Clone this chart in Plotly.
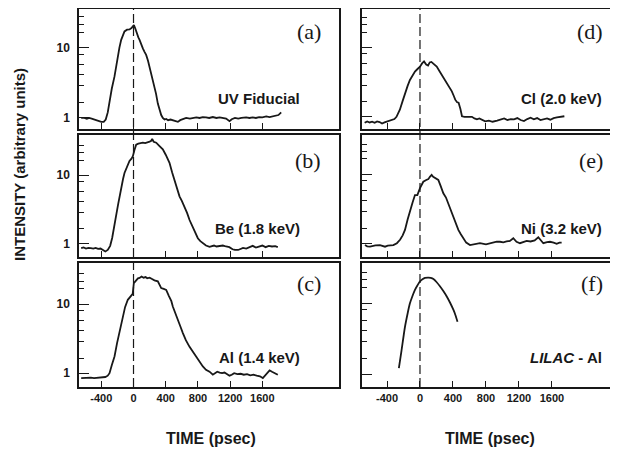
import plotly.graph_objects as go

# ---------------- data ----------------
t_a = [-650, -610, -580, -550, -520, -490, -460, -430, -400, -370, -345, -320, -298, -270, -236, -215,
       -195, -175, -153, -130, -112, -80, -50, -25, -8, 5, 20, 40, 60, 75, 95, 116, 135, 157, 180, 200,
       219, 240, 261, 280, 302, 325, 344, 364, 385, 406, 430, 460, 489, 520, 551, 580, 610, 654, 700,
       740, 780, 820, 860, 900, 940, 985, 1030, 1070, 1110, 1150, 1192, 1220, 1260, 1300, 1340, 1399,
       1440, 1480, 1520, 1560, 1600, 1648, 1690, 1730, 1770, 1800, 1834]
i_a = [1.0, 1.0, 0.97, 1.0, 0.98, 0.95, 0.93, 0.9, 0.88, 0.88, 0.95, 1.2, 1.8, 2.6, 3.9, 5.5,
       7.5, 10, 12.9, 15, 17, 18, 18.2, 19, 20.5, 21, 19, 16, 14, 12.9, 11, 9.8, 8.8, 7.9, 6.5, 5.3,
       4.3, 3.5, 2.8, 2.2, 1.6, 1.25, 1.1, 1.0, 0.95, 0.97, 0.93, 0.95, 0.92, 0.9, 0.88, 0.93, 0.95, 1.0, 0.98,
       1.0, 1.02, 1.0, 1.03, 1.02, 1.0, 1.03, 1.0, 1.02, 1.0, 0.98, 0.9, 0.96, 1.0, 0.98, 1.0, 1.02,
       1.0, 1.02, 1.0, 1.03, 1.02, 1.05, 1.03, 1.05, 1.08, 1.1, 1.2]

t_b = [-650, -620, -590, -560, -530, -500, -470, -440, -410, -380, -350, -320, -290, -265, -236, -210,
       -190, -174, -150, -130, -112, -80, -50, -25, -8, 10, 33, 60, 90, 116, 145, 170, 200, 220, 232,
       250, 282, 320, 364, 400, 447, 480, 509, 540, 571, 600, 633, 665, 696, 737, 770, 799, 830, 861,
       900, 944, 980, 1000, 1030, 1070, 1110, 1150, 1190, 1230, 1260, 1300, 1330, 1360, 1400, 1440,
       1480, 1520, 1560, 1600, 1640, 1680, 1720, 1760, 1792]
i_b = [0.85, 0.87, 0.84, 0.86, 0.85, 0.84, 0.86, 0.83, 0.84, 0.8, 0.76, 0.8, 0.92, 1.2, 1.76, 2.8,
       3.8, 4.9, 7, 8.8, 10.8, 13.5, 16.2, 17.5, 19, 23, 28, 29, 29.5, 30, 29.5, 30, 31, 32, 34,
       31, 30, 27, 24, 20, 15.2, 11, 8.6, 6.5, 4.9, 4.2, 3.5, 2.8, 2.2, 1.76, 1.4, 1.19, 1.08, 1.0,
       0.93, 0.89, 0.92, 0.93, 0.9, 0.92, 0.93, 0.9, 0.88, 0.82, 0.8, 0.8, 0.83, 0.86, 0.84, 0.88,
       0.92, 0.87, 0.9, 0.93, 0.88, 0.92, 0.9, 0.91, 0.88]

t_c = [-650, -610, -570, -530, -490, -450, -410, -380, -350, -320, -298, -270, -236, -205, -174, -150,
       -133, -105, -71, -50, -29, -10, 4, 30, 55, 75, 100, 125, 150, 170, 200, 230, 260, 302, 320, 344,
       375, 406, 440, 470, 488, 520, 551, 580, 613, 650, 696, 740, 779, 820, 861, 900, 944, 985, 1010,
       1040, 1070, 1100, 1130, 1160, 1192, 1220, 1250, 1290, 1330, 1370, 1410, 1450, 1490, 1530, 1570,
       1606, 1630, 1660, 1690, 1720, 1760, 1792]
i_c = [0.85, 0.86, 0.85, 0.86, 0.85, 0.86, 0.85, 0.87, 0.88, 0.92, 1.0, 1.3, 1.74, 2.7, 3.8, 5.2,
       6.6, 9, 11.5, 12.2, 12.9, 14, 20, 22, 23.5, 23.8, 25, 24, 24.5, 23.5, 24, 23, 22, 21.3, 19, 17,
       16.5, 16, 13, 11, 9.2, 7.2, 5.9, 4.8, 3.8, 3.0, 2.4, 2.0, 1.74, 1.45, 1.25, 1.12, 1.05, 0.95, 1.0,
       1.05, 1.02, 1.0, 1.02, 0.98, 0.92, 0.95, 1.0, 0.97, 0.98, 0.95, 0.97, 0.93, 0.95, 0.92, 0.9,
       0.85, 0.92, 1.0, 1.1, 1.05, 0.98, 0.95]

t_d = [-671, -640, -610, -580, -550, -520, -490, -460, -430, -400, -370, -340, -310, -285, -244, -210,
       -183, -150, -122, -90, -61, -30, 0, 25, 49, 75, 98, 118, 138, 165, 203, 235, 264, 295, 326, 356,
       386, 410, 427, 450, 468, 490, 509, 540, 570, 600, 630, 660, 690, 720, 750, 790, 835, 880, 935,
       980, 1020, 1060, 1100, 1140, 1180, 1220, 1260, 1300, 1340, 1380, 1420, 1460, 1500, 1540, 1580,
       1620, 1660, 1708, 1750]
i_d = [0.82, 0.86, 0.83, 0.85, 0.82, 0.86, 0.84, 0.8, 0.83, 0.85, 0.87, 0.9, 0.93, 1.0, 1.27, 1.7,
       2.2, 2.8, 3.4, 3.9, 4.5, 4.9, 5.3, 5.9, 6.3, 5.7, 5.5, 6.1, 6.2, 5.8, 5.3, 4.6, 4.06, 3.5, 3.1, 2.7,
       2.33, 2.0, 1.77, 1.62, 1.6, 1.3, 1.02, 1.0, 1.0, 0.98, 1.0, 0.95, 0.92, 0.95, 0.9, 0.86, 0.88, 0.85, 0.88,
       0.92, 0.95, 0.9, 0.93, 0.92, 0.96, 0.9, 0.87, 0.93, 0.97, 0.92, 0.96, 0.9, 0.93, 0.95, 0.91,
       0.96, 0.98, 1.0, 1.02]

t_e = [-667, -640, -606, -570, -540, -485, -450, -424, -390, -355, -323, -280, -242, -210, -182, -150,
       -121, -90, -61, -32, 0, 20, 40, 70, 101, 120, 141, 160, 182, 222, 250, 283, 315, 343, 375, 404,
       435, 465, 495, 525, 560, 606, 660, 727, 800, 850, 889, 930, 970, 1010, 1050, 1090, 1131, 1170,
       1212, 1250, 1293, 1340, 1390, 1434, 1470, 1495, 1540, 1576, 1620, 1657, 1690, 1717]
i_e = [0.94, 0.9, 0.89, 0.92, 0.93, 0.94, 0.9, 0.89, 0.92, 0.94, 0.94, 1.0, 1.12, 1.3, 1.56, 2.2,
       3.0, 3.9, 5.0, 5.0, 6.3, 7.0, 7.8, 8.2, 8.5, 9.2, 9.8, 9.2, 8.8, 8.3, 6.8, 5.3, 4.6, 3.8, 3.0, 2.4,
       1.9, 1.56, 1.35, 1.18, 1.02, 0.94, 0.97, 1.0, 0.96, 1.0, 1.02, 1.05, 1.05, 1.03, 1.06, 1.08, 1.18, 1.05,
       1.0, 1.05, 1.08, 1.06, 1.1, 1.22, 1.08, 1.0, 1.04, 1.05, 1.02, 0.98, 1.02, 1.02]

t_f = [-256, -224, -183, -150, -122, -90, -61, -30, 0, 30, 61, 102, 130, 163, 200, 244, 285, 326,
       365, 407, 430, 455]
i_f = [1.22, 2.15, 4.6, 7.2, 10, 12.8, 15.5, 18, 20.4, 21.8, 22.8, 23, 22.8, 22, 20, 17.3, 14.8, 12.4,
       10.2, 8.0, 6.8, 5.5]

panel_letters = ["(a)", "(b)", "(c)", "(d)", "(e)", "(f)"]
panel_names = ["<b>UV Fiducial</b>", "<b>Be (1.8 keV)</b>", "<b>Al (1.4 keV)</b>",
               "<b>Cl (2.0 keV)</b>", "<b>Ni (3.2 keV)</b>", "<b><i>LILAC</i> - Al</b>"]
x_ticks = [-400, 0, 400, 800, 1200, 1600]
y_major = [1, 10]
y_major_text = ["1", "10"]
y_minor = [1.65, 2.85, 4.1, 5.8, 8.1, 16.7, 21.5, 27.5]

series = [(t_a, i_a), (t_b, i_b), (t_c, i_c), (t_d, i_d), (t_e, i_e), (t_f, i_f)]

# ---------------- layout geometry (page pixels; page body has an 8px margin) ----------------
OFF = 8
W, H = 618 - OFF, 449 - OFF
def fx(px):
    return (px - OFF) / W
def fy(py):
    return 1 - (py - OFF) / H

ink = "#181818"
col_x = [(79, 339), (362, 616)]
row_y = [(9, 128.5), (135, 257), (262.5, 387)]
x_ranges = [(-677, 2552), (-703, 2376)]
y_ranges = [(-0.15, 1.55), (-0.2, 1.59), (-0.2, 1.6),
            (-0.168, 1.556), (-0.2, 1.57), (-0.18, 1.576)]

fig = go.Figure()
layout = {}
for k in range(6):
    col, row = divmod(k, 3)
    sfx = "" if k == 0 else str(k + 1)
    x0, x1 = col_x[col]
    y0, y1 = row_y[row]
    t, v = series[k]
    fig.add_trace(go.Scatter(
        x=t, y=v, mode="lines", xaxis="x" + sfx, yaxis="y" + sfx,
        line=dict(color=ink, width=1.8, shape="spline" if k == 5 else "linear", smoothing=0.6),
        showlegend=False, hoverinfo="skip"))
    layout["xaxis" + sfx] = dict(
        domain=[max(fx(x0), 0), min(fx(x1), 1)], range=list(x_ranges[col]), anchor="y" + sfx,
        showline=True, linecolor=ink, linewidth=1.5, mirror=True,
        ticks="inside", ticklen=6, tickwidth=1.2, tickcolor=ink,
        tickmode="array", tickvals=x_ticks, ticktext=["<b>%d</b>" % v_ for v_ in x_ticks],
        showticklabels=(row == 2),
        tickfont=dict(family="Liberation Sans", size=11, color=ink),
        showgrid=False, zeroline=False)
    layout["yaxis" + sfx] = dict(
        domain=[max(fy(y1), 0), min(fy(y0), 1)], type="log", range=list(y_ranges[k]),
        anchor="x" + sfx,
        showline=True, linecolor=ink, linewidth=1.5, mirror=True,
        ticks="inside", ticklen=10, tickwidth=1.2, tickcolor=ink,
        tickmode="array", tickvals=y_major, ticktext=["<b>%s</b>" % s for s in y_major_text],
        showticklabels=(col == 0), ticklabelstandoff=5,
        tickfont=dict(family="Liberation Sans", size=12, color=ink),
        minor=dict(tickmode="array", tickvals=y_minor, ticks="inside", ticklen=5,
                   tickwidth=1.1, tickcolor=ink, showgrid=False),
        showgrid=False, zeroline=False)

fig.update_layout(**layout)

shapes = []
# dashed t=0 line across each column
for col, xr in enumerate(["x", "x4"]):
    shapes.append(dict(type="line", xref=xr, yref="paper", x0=0, x1=0,
                       y0=fy(row_y[2][1]), y1=fy(row_y[0][0]),
                       line=dict(color=ink, width=1.2, dash="9px,4px")))
fig.update_layout(shapes=shapes)

ann = []
letter_y = [32, 161, 283]
name_y = [98, 228, 357]
letter_right = [323, 605]
name_right = [302, 604]
for k in range(6):
    col, row = divmod(k, 3)
    ann.append(dict(xref="paper", yref="paper", x=fx(letter_right[col]), y=fy(letter_y[row]),
                    text=panel_letters[k], showarrow=False, xanchor="right", yanchor="middle",
                    font=dict(family="Liberation Serif", size=22, color=ink)))
    ann.append(dict(xref="paper", yref="paper", x=fx(name_right[col]), y=fy(name_y[row]),
                    text=panel_names[k], showarrow=False, xanchor="right", yanchor="middle",
                    font=dict(family="Liberation Sans", size=15, color=ink)))
for cx in [211, 490]:
    ann.append(dict(xref="paper", yref="paper", x=fx(cx), y=fy(438),
                    text="<b>TIME (psec)</b>", showarrow=False, xanchor="center", yanchor="middle",
                    font=dict(family="Liberation Sans", size=16, color=ink)))
ann.append(dict(xref="paper", yref="paper", x=fx(19), y=fy(165),
                text="<b>INTENSITY (arbitrary units)</b>", showarrow=False, textangle=-90,
                xanchor="center", yanchor="middle",
                font=dict(family="Liberation Sans", size=15, color=ink)))
fig.update_layout(annotations=ann)

fig.update_layout(width=W, height=H, margin=dict(l=0, r=0, t=0, b=0),
                  paper_bgcolor="white", plot_bgcolor="white")

fig.write_html("out.html")
